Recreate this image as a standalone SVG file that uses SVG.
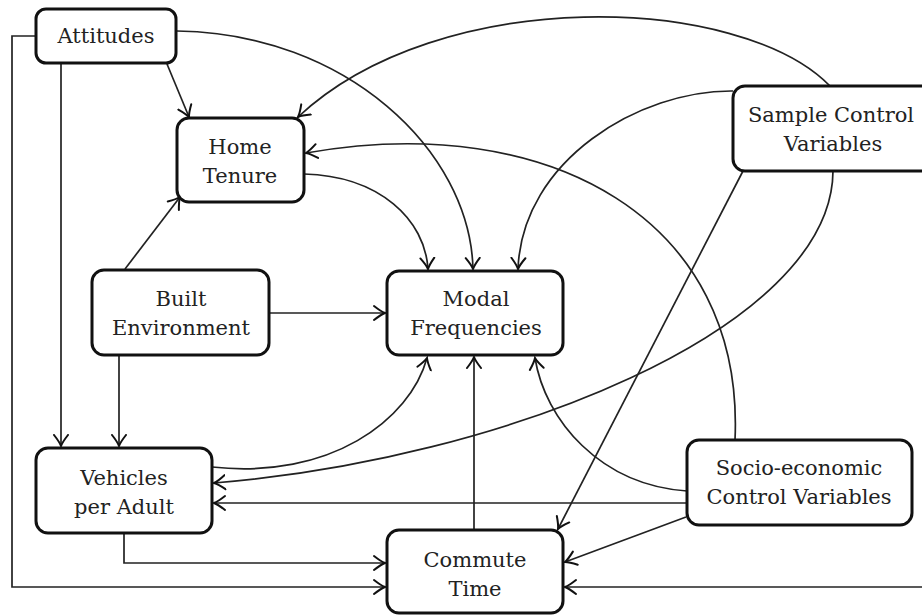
<svg xmlns="http://www.w3.org/2000/svg" width="922" height="615" viewBox="0 0 922 615">
<style>
.box{fill:#fff;stroke:#111;stroke-width:3}
.lbl{font-family:"DejaVu Serif","Liberation Serif",serif;font-size:21px;fill:#222;text-anchor:middle}
.c{fill:none;stroke:#222;stroke-width:1.7}
.a{marker-end:url(#arr)}
</style>
<defs>
<marker id="arr" markerUnits="userSpaceOnUse" markerWidth="24" markerHeight="24" viewBox="-12 -12 24 24" refX="0" refY="0" orient="auto">
<path d="M -11,-7 Q -4,-1.5 0,0 Q -4,1.5 -11,7" fill="none" stroke="#111" stroke-width="2" stroke-linecap="round"/>
</marker>
</defs>
<rect width="922" height="615" fill="#fff"/>
<g id="connectors">
<path class="c a" d="M167,64 L189,117"/>
<path class="c a" d="M177,31 C345,33 470,150 473,269"/>
<path class="c a" d="M36,36 H12 V587 H385"/>
<path class="c a" d="M61,64 V446"/>
<path class="c a" d="M125,269 L180,197"/>
<path class="c a" d="M269,313 H385"/>
<path class="c a" d="M119,355 V446"/>
<path class="c a" d="M304,174 C380,176 425,220 428,269"/>
<path class="c a" d="M830,86 C740,-6 440,-16 298,117"/>
<path class="c a" d="M733,91 C640,90 522,160 518,269"/>
<path class="c a" d="M833,171 C832,330 500,460 214,483"/>
<path class="c a" d="M743,171 L558,529"/>
<path class="c a" d="M735,440 C745,220 550,110 306,153"/>
<path class="c a" d="M687,491 C600,485 545,420 535,358"/>
<path class="c a" d="M687,503 H214"/>
<path class="c a" d="M686,517 L565,562"/>
<path class="c a" d="M474,530 V357"/>
<path class="c a" d="M212,467 C330,480 410,420 427,358"/>
<path class="c a" d="M124,533 V563 H385"/>
<path class="c a" d="M922,587 H565"/>
</g>
<g id="attitudes">
<rect class="box" x="36" y="9" width="140" height="54" rx="10"/>
<text class="lbl" x="106" y="43">Attitudes</text>
</g>
<g id="home-tenure">
<rect class="box" x="177" y="118" width="127" height="84" rx="12"/>
<text class="lbl" x="240" y="154">Home</text>
<text class="lbl" x="240" y="183">Tenure</text>
</g>
<g id="sample-control">
<rect class="box" x="733" y="86" width="200" height="85" rx="12"/>
<text class="lbl" x="831" y="122">Sample Control</text>
<text class="lbl" x="833" y="151">Variables</text>
</g>
<g id="built-environment">
<rect class="box" x="92" y="270" width="177" height="85" rx="12"/>
<text class="lbl" x="181" y="306">Built</text>
<text class="lbl" x="181" y="335">Environment</text>
</g>
<g id="modal-frequencies">
<rect class="box" x="387" y="271" width="176" height="84" rx="12"/>
<text class="lbl" x="476" y="306">Modal</text>
<text class="lbl" x="476" y="335">Frequencies</text>
</g>
<g id="vehicles-per-adult">
<rect class="box" x="36" y="448" width="176" height="85" rx="12"/>
<text class="lbl" x="124" y="485">Vehicles</text>
<text class="lbl" x="124" y="514">per Adult</text>
</g>
<g id="socio-economic">
<rect class="box" x="687" y="440" width="225" height="85" rx="12"/>
<text class="lbl" x="799" y="475">Socio-economic</text>
<text class="lbl" x="799" y="504">Control Variables</text>
</g>
<g id="commute-time">
<rect class="box" x="387" y="530" width="176" height="83" rx="12"/>
<text class="lbl" x="475" y="567">Commute</text>
<text class="lbl" x="475" y="596">Time</text>
</g>
</svg>
